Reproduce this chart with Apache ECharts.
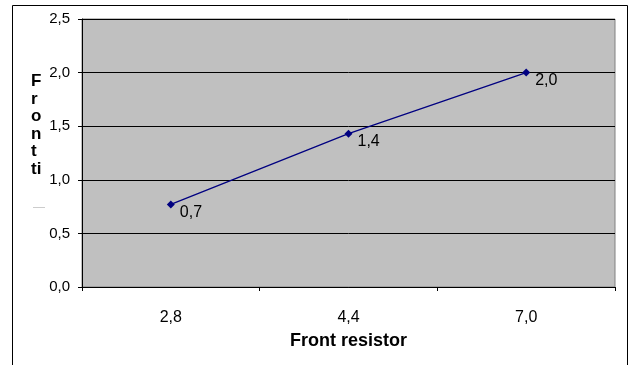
<!DOCTYPE html>
<html>
<head>
<meta charset="utf-8">
<script src="https://cdn.jsdelivr.net/npm/echarts@6/dist/echarts.min.js"></script>
<style>html,body{margin:0;padding:0;background:#fff}#c{width:630px;height:365px}</style>
</head>
<body>
<div id="c"></div>
<script>
var categories = ['2,8', '4,4', '7,0'];
var values = [0.77, 1.43, 2.0];
var pointLabels = ['0,7', '1,4', '2,0'];
var yTitle = 'F\nr\no\nn\nt\nti';
var xTitle = 'Front resistor';

var fmt = function (v) { return v.toFixed(1).replace('.', ','); };
var chart = echarts.init(document.getElementById('c'), null, {renderer: 'canvas'});
chart.setOption({
  animation: false,
  backgroundColor: '#fff',
  textStyle: {fontFamily: 'Liberation Sans, Arial, sans-serif'},
  grid: {left: 82, top: 19, right: 15, bottom: 78, show: true, backgroundColor: '#C0C0C0', borderColor: '#808080', borderWidth: 1},
  graphic: [
    {type: 'polyline', shape: {points: [[12.5, 365], [12.5, 5.5], [627.5, 5.5], [627.5, 365]]}, style: {stroke: '#000', lineWidth: 1, fill: null}},
    {type: 'text', left: 31, top: 73, style: {text: yTitle, font: 'bold 17px Liberation Sans, Arial, sans-serif', fill: '#000', lineHeight: 17.5}},
    {type: 'rect', shape: {x: 33, y: 207, width: 12, height: 1}, style: {fill: '#ccc'}}
  ],
  xAxis: {
    type: 'category', data: categories, boundaryGap: true,
    axisLine: {lineStyle: {color: '#000', width: 1}},
    axisTick: {show: true, length: 4, lineStyle: {color: '#000'}},
    axisLabel: {color: '#000', fontSize: 16, margin: 23},
    name: xTitle, nameLocation: 'middle', nameGap: 45,
    nameTextStyle: {color: '#000', fontSize: 18, fontWeight: 'bold'}
  },
  yAxis: {
    type: 'value', min: 0, max: 2.5, interval: 0.5,
    axisLine: {show: true, lineStyle: {color: '#000', width: 1}},
    axisTick: {show: true, length: 4, lineStyle: {color: '#000'}},
    axisLabel: {color: '#000', fontSize: 15, margin: 12, formatter: fmt},
    splitLine: {show: true, lineStyle: {color: '#000', width: 1}}
  },
  series: [{
    type: 'line', data: values,
    lineStyle: {color: '#000080', width: 1.3},
    itemStyle: {color: '#000080'},
    symbol: 'diamond', symbolSize: 8,
    label: {show: true, position: 'right', distance: 5, offset: [0, 8], color: '#000', fontSize: 16,
      formatter: function (p) { return pointLabels[p.dataIndex]; }}
  }]
});
</script>
</body>
</html>
